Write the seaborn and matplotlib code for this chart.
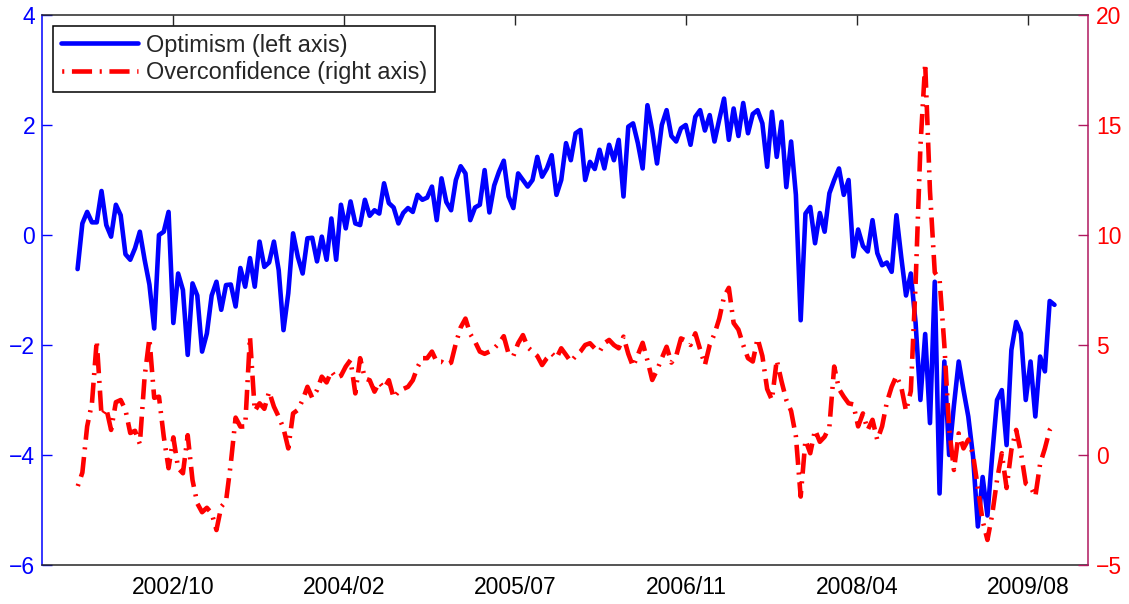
import matplotlib
matplotlib.use("Agg")
import matplotlib.pyplot as plt
from matplotlib.ticker import FixedLocator, FixedFormatter
import pandas as pd
import seaborn as sns

# Fortnightly sentiment indices, Jan 2002 - Oct 2009
start_date = "2002-01-04"
step_days = 14

optimism = [
    -0.62, 0.21, 0.42, 0.23, 0.23, 0.80, 0.18, -0.03, 0.55, 0.36,
    -0.35, -0.45, -0.24, 0.06, -0.45, -0.90, -1.70, 0.00, 0.06, 0.42,
    -1.60, -0.70, -1.00, -2.18, -0.88, -1.10, -2.12, -1.79, -1.10, -0.85,
    -1.36, -0.91, -0.90, -1.30, -0.60, -0.94, -0.42, -0.94, -0.12, -0.58,
    -0.50, -0.12, -0.64, -1.73, -1.06, 0.03, -0.40, -0.70, -0.06, -0.05,
    -0.48, -0.03, -0.45, 0.30, -0.45, 0.55, 0.12, 0.61, 0.21, 0.18,
    0.64, 0.35, 0.45, 0.39, 0.94, 0.58, 0.50, 0.21, 0.40, 0.49,
    0.42, 0.73, 0.64, 0.68, 0.88, 0.27, 1.03, 0.60, 0.45, 1.00,
    1.25, 1.12, 0.27, 0.50, 0.55, 1.18, 0.41, 0.90, 1.15, 1.35,
    0.70, 0.49, 1.12, 1.00, 0.88, 1.00, 1.42, 1.06, 1.21, 1.45,
    0.73, 1.00, 1.67, 1.36, 1.85, 1.91, 1.00, 1.33, 1.20, 1.55,
    1.21, 1.64, 1.36, 1.73, 0.70, 1.97, 2.03, 1.67, 1.21, 2.36,
    1.90, 1.30, 2.00, 2.27, 1.80, 1.70, 1.94, 2.00, 1.64, 2.15,
    2.27, 1.90, 2.18, 1.70, 2.10, 2.48, 1.73, 2.30, 1.80, 2.40,
    1.85, 2.20, 2.27, 2.03, 1.24, 2.24, 1.42, 2.06, 0.87, 1.70,
    0.73, -1.55, 0.39, 0.51, -0.15, 0.40, 0.06, 0.76, 1.00, 1.21,
    0.73, 1.00, -0.39, 0.10, -0.20, -0.30, 0.27, -0.33, -0.55, -0.50,
    -0.67, 0.36, -0.40, -1.10, -0.70, -1.60, -3.00, -1.80, -3.42, -0.85,
    -4.70, -2.30, -4.00, -3.10, -2.30, -2.82, -3.30, -4.03, -5.30, -4.40,
    -5.10, -4.00, -3.00, -2.82, -3.82, -2.09, -1.58, -1.79, -3.00, -2.30,
    -3.30, -2.21, -2.48, -1.20, -1.27,
]

overconfidence = [
    -1.44, -0.80, 1.30, 2.35, 5.20, 1.80, 2.12, 1.14, 2.40, 2.50,
    2.05, 1.00, 1.10, 0.50, 3.56, 5.30, 2.60, 2.65, 0.83, -0.60,
    0.80, -0.60, -0.83, 0.90, -1.14, -2.20, -2.60, -2.40, -2.65, -3.41,
    -2.35, -2.10, -0.38, 1.70, 1.29, 1.30, 5.38, 2.00, 2.35, 2.10,
    2.88, 2.20, 1.74, 1.21, 0.30, 1.89, 2.05, 2.50, 3.10, 2.60,
    2.95, 3.56, 3.30, 3.80, 3.50, 3.60, 4.02, 4.32, 2.80, 4.40,
    3.48, 3.40, 2.88, 3.30, 3.03, 3.40, 2.60, 2.88, 3.00, 3.10,
    3.40, 4.00, 4.40, 4.40, 4.70, 4.24, 4.24, 4.09, 4.20, 5.08,
    5.80, 6.20, 5.50, 5.15, 4.70, 4.60, 4.70, 4.85, 5.08, 5.40,
    4.60, 4.50, 5.08, 5.45, 4.90, 4.70, 4.50, 4.09, 4.40, 4.62,
    4.40, 4.85, 4.55, 4.24, 4.50, 4.70, 5.00, 5.08, 4.85, 4.70,
    5.08, 5.23, 5.00, 4.85, 5.38, 4.60, 4.02, 4.55, 5.10, 4.30,
    3.41, 3.86, 4.40, 4.92, 4.20, 4.50, 5.30, 5.20, 5.00, 5.53,
    4.80, 4.09, 5.00, 5.50, 6.20, 7.20, 7.60, 6.00, 5.70, 5.00,
    4.40, 4.25, 5.30, 4.50, 3.00, 2.50, 4.32, 3.35, 2.50, 2.00,
    0.85, -1.89, 0.68, 0.08, 1.14, 0.60, 0.83, 1.29, 4.02, 3.00,
    2.65, 2.35, 2.30, 1.30, 1.89, 1.14, 1.60, 0.68, 1.30, 2.40,
    3.10, 3.60, 3.10, 2.00, 2.90, 7.80, 14.00, 17.80, 12.00, 8.30,
    8.00, 5.00, 1.20, -0.68, 0.98, 0.30, 0.70, 0.00, -1.50, -3.00,
    -3.86, -2.70, -1.14, 0.08, -1.50, 0.23, 1.14, 0.10, -1.30, -1.44,
    -1.89, -0.40, 0.30, 1.14, 1.44,
]

series_labels = ["Optimism (left axis)", "Overconfidence (right axis)"]
left_ticks = [-6, -4, -2, 0, 2, 4]
right_ticks = [-5, 0, 5, 10, 15, 20]
x_tick_labels = ["2002/10", "2004/02", "2005/07", "2006/11", "2008/04", "2009/08"]
first_x_tick = "2002-10-10"
x_tick_spacing_days = 500
x_limits = ("2001-09-22", "2010-02-05")

BLUE = "#0000FF"
RED = "#FF0000"
RIGHT_AXIS = "#B0175F"
FRAME = "#262626"

sns.set_style("white")
plt.rcParams["font.family"] = ["Liberation Sans", "DejaVu Sans"]
plt.rcParams["lines.scale_dashes"] = False

dates = pd.date_range(start_date, periods=len(optimism), freq=f"{step_days}D")
df = pd.DataFrame({"date": dates, "optimism": optimism,
                   "overconfidence": overconfidence})

W, H = 1129, 604
fig = plt.figure(figsize=(W / 100, H / 100), dpi=100)
ax = fig.add_axes([42 / W, 1 - 565 / H, (1088 - 42) / W, 550 / H])
ax2 = ax.twinx()

sns.lineplot(data=df, x="date", y="optimism", ax=ax, color=BLUE, lw=3.3,
             label=series_labels[0], legend=False)
sns.lineplot(data=df, x="date", y="overconfidence", ax=ax2, color=RED, lw=3.3,
             linestyle=(19.5, (14.5, 5.5, 1.5, 5.5)),
             label=series_labels[1], legend=False)

# axis ranges and ticks
ax.set_ylim(-6, 4)
ax2.set_ylim(-5, 20)
ax.set_yticks(left_ticks)
ax2.set_yticks(right_ticks)
ax.set_xlim(pd.Timestamp(x_limits[0]), pd.Timestamp(x_limits[1]))

tick_dates = [pd.Timestamp(first_x_tick) + pd.Timedelta(days=k * x_tick_spacing_days)
              for k in range(len(x_tick_labels))]
ax.xaxis.set_major_locator(FixedLocator([matplotlib.dates.date2num(d) for d in tick_dates]))
ax.xaxis.set_major_formatter(FixedFormatter(x_tick_labels))

for a in (ax, ax2):
    a.set_xlabel("")
    a.set_ylabel("")

fs = 16.5
ax.tick_params(axis="y", direction="in", length=7, width=1, colors=BLUE,
               labelsize=fs, pad=5, right=False)
ax.tick_params(axis="x", direction="in", length=7, width=1, color=FRAME,
               labelcolor="black", labelsize=fs, pad=8, top=True)
ax2.tick_params(axis="y", direction="in", length=7, width=1, color=RIGHT_AXIS,
                labelcolor=RED, labelsize=fs, pad=6)

# spines
ax.spines["left"].set_color(BLUE)
ax.spines["right"].set_visible(False)
for s in ("top", "bottom"):
    ax.spines[s].set_color(FRAME)
for s in ("left", "top", "bottom"):
    ax2.spines[s].set_visible(False)
ax2.spines["right"].set_color(RIGHT_AXIS)
for a in (ax, ax2):
    for s in a.spines.values():
        s.set_linewidth(1.1)

# legend
h1, l1 = ax.get_legend_handles_labels()
h2, l2 = ax2.get_legend_handles_labels()
leg = ax2.legend(h1 + h2, l1 + l2, loc="upper left",
                 bbox_to_anchor=(11 / 1046, 1 - 11 / 550), borderaxespad=0,
                 frameon=True, fancybox=False, shadow=False, framealpha=1,
                 fontsize=16.9, handlelength=3.3, handletextpad=0.35,
                 borderpad=0.32, labelspacing=0.2)
leg.get_frame().set_edgecolor("black")
leg.get_frame().set_linewidth(1.1)

fig.savefig("out.png", dpi=100)
